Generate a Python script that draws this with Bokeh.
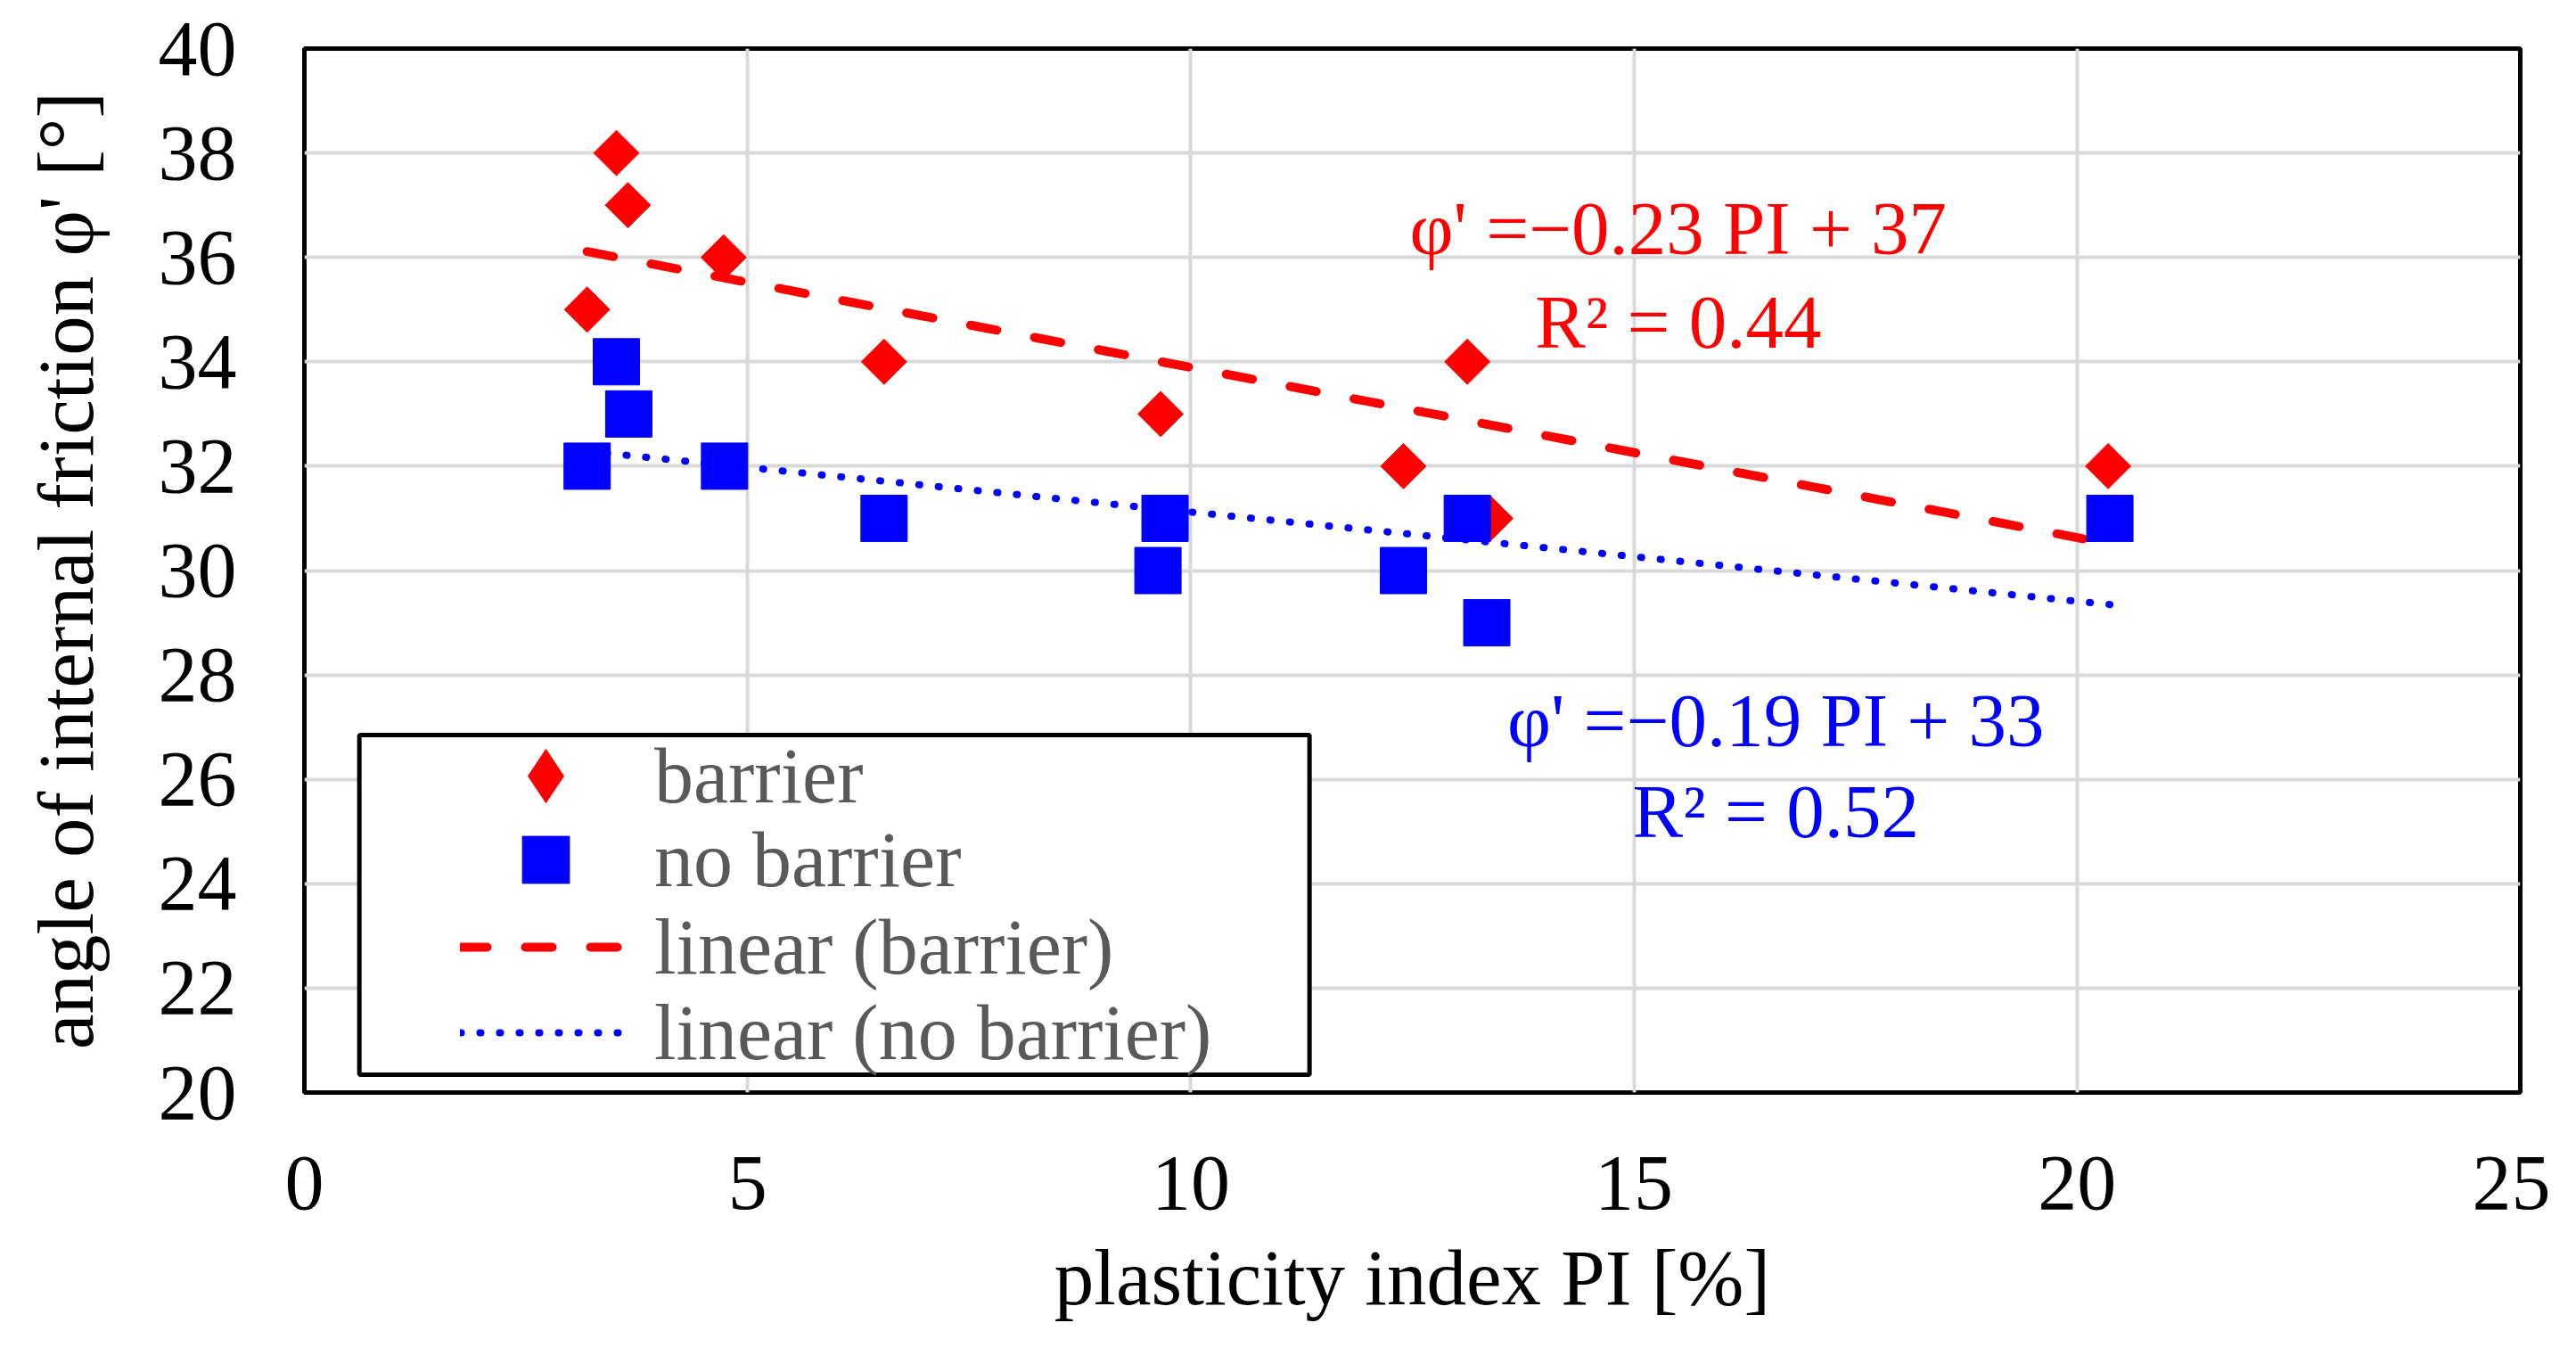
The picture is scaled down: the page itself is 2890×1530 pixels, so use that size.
import numpy as np
from bokeh.plotting import figure
from bokeh.models import Range1d, FixedTicker, Legend, LegendItem, Label, BoxAnnotation
from bokeh.embed import file_html
from bokeh.resources import INLINE

# ---- data ----
barrier_pi = [3.19, 3.52, 3.65, 4.73, 6.54, 9.66, 12.40, 13.12, 13.38, 20.35]
barrier_phi = [35, 38, 37, 36, 34, 33, 32, 34, 31, 32]
nobarrier_pi = [3.19, 3.52, 3.66, 4.74, 6.54, 9.71, 9.63, 12.40, 13.12, 13.34, 20.37]
nobarrier_phi = [32, 34, 33, 32, 31, 31, 30, 30, 31, 29, 31]
x_ticks = [0, 5, 10, 15, 20, 25]
y_ticks = [20, 22, 24, 26, 28, 30, 32, 34, 36, 38, 40]
x_title = "plasticity index PI [%]"
y_title = "angle of internal friction φ' [°]"
eq_barrier = ["φ' =\u22120.23 PI + 37", "R\u00b2 = 0.44"]
eq_nobarrier = ["φ' =\u22120.19 PI + 33", "R\u00b2 = 0.52"]
legend_labels = ["barrier", "no barrier", "linear (barrier)", "linear (no barrier)"]

RED = "#FF0000"
BLUE = "#0000FF"
FONT = "Liberation Serif"

# linear trend lines (least squares over each series)
def trend(xs, ys):
    xs = np.asarray(xs, float)
    ys = np.asarray(ys, float)
    k, b = np.polyfit(xs, ys, 1)
    xx = np.array([xs.min(), xs.max()])
    return xx, k * xx + b

tb_x, tb_y = trend(barrier_pi, barrier_phi)
tn_x, tn_y = trend(nobarrier_pi, nobarrier_phi)

p = figure(
    frame_width=2486, frame_height=1171,
    min_border_left=341, min_border_right=34, min_border_top=54, min_border_bottom=289,
    x_range=Range1d(0, 25), y_range=Range1d(20, 40),
    output_backend="svg", toolbar_location=None,
    background_fill_color="white", border_fill_color="white",
)

p.outline_line_color = "black"
p.outline_line_width = 5

p.xaxis.ticker = FixedTicker(ticks=x_ticks)
p.yaxis.ticker = FixedTicker(ticks=y_ticks)
p.xgrid.ticker = FixedTicker(ticks=x_ticks)
p.ygrid.ticker = FixedTicker(ticks=y_ticks)
for g in (p.xgrid, p.ygrid):
    g.grid_line_color = "#D9D9D9"
    g.grid_line_width = 4

for ax in (p.xaxis, p.yaxis):
    ax.axis_line_color = None
    ax.major_tick_line_color = None
    ax.minor_tick_line_color = None
    ax.major_label_text_font = FONT
    ax.major_label_text_font_size = "88px"
    ax.major_label_text_color = "black"
    ax.axis_label_text_font = FONT
    ax.axis_label_text_font_size = "89px"
    ax.axis_label_text_color = "black"
    ax.axis_label_text_font_style = "normal"

p.xaxis.axis_label = x_title
p.yaxis.axis_label = y_title
p.xaxis.major_label_standoff = 66
p.yaxis.major_label_standoff = 70
p.xaxis.axis_label_standoff = 25
p.yaxis.axis_label_standoff = 52

# trend lines
r_lb = p.line(tb_x, tb_y, line_color=RED, line_width=10, line_dash="30 43", line_cap="round")
r_ln = p.line(tn_x, tn_y, line_color=BLUE, line_width=8, line_dash="1 21", line_cap="round")

# markers (diamonds = squares turned by 45 degrees)
r_b = p.scatter(barrier_pi, barrier_phi, marker="square", angle=np.pi / 4, size=36,
                fill_color=RED, line_color=RED, line_width=1)
r_n = p.scatter(nobarrier_pi, nobarrier_phi, marker="square", size=52,
                fill_color=BLUE, line_color=BLUE, line_width=1)
# hidden twin of the barrier series, only used to draw a diamond key in the legend
r_b_key = p.scatter(barrier_pi, barrier_phi, marker="diamond", size=36,
                    fill_color=RED, line_color=RED, line_width=1, visible=False)

# equation labels
for txt, yy in zip(eq_barrier, [36.55, 34.76]):
    p.add_layout(Label(x=15.5, y=yy, text=txt, text_align="center", text_baseline="alphabetic",
                       text_font=FONT, text_font_size="85px", text_color=RED))
for txt, yy in zip(eq_nobarrier, [27.13, 25.39]):
    p.add_layout(Label(x=16.6, y=yy, text=txt, text_align="center", text_baseline="alphabetic",
                       text_font=FONT, text_font_size="85px", text_color=BLUE))

# legend frame
p.add_layout(BoxAnnotation(left=0.62, right=11.34, top=26.85, bottom=20.34,
                           fill_color="white", fill_alpha=1.0,
                           line_color="black", line_width=5, line_alpha=1.0))

# one legend per entry so that rows sit 96 px apart while keys stay large
renderers = [r_b_key, r_n, r_lb, r_ln]
offsets = [280, 195, 97, 1]
row_heights = [150, 132, 132, 132]
for lab, rend, off, hh in zip(legend_labels, renderers, offsets, row_heights):
    lg = Legend(
        items=[LegendItem(label=lab, renderers=[rend])],
        location=(175, off), margin=0, padding=0, spacing=0,
        glyph_width=192, glyph_height=hh, label_height=hh, label_standoff=26,
        label_text_font=FONT, label_text_font_size="88px", label_text_color="#595959",
        border_line_color=None, background_fill_alpha=0.0,
        inactive_fill_alpha=0.0,
    )
    p.add_layout(lg)

open("out.html", "w").write(file_html(p, INLINE))
